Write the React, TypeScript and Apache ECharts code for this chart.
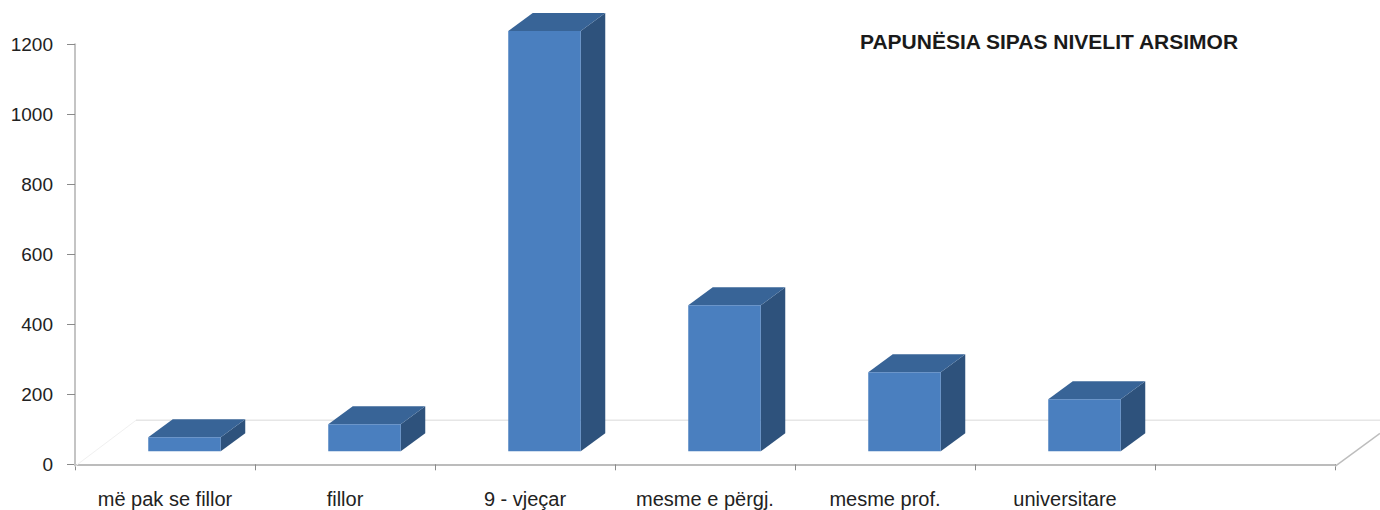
import React, { useEffect, useRef } from "react";
import * as echarts from "echarts";

const categories = ["më pak se fillor", "fillor", "9 - vjeçar", "mesme e përgj.", "mesme prof.", "universitare", ""];
const values = [40, 77, 1201, 417, 226, 149];
const yMax = 1200;
const yStep = 200;
const chartTitle = "PAPUNËSIA SIPAS NIVELIT ARSIMOR";

const FRONT = "#4a7fbf";
const TOP = "#386497";
const SIDE = "#2e527c";
const FONT = '"Liberation Sans", Arial, sans-serif';

// 3D look, in pixels
const BAR_W = 72.5;
const BAR_SHIFT_X = 19.5;
const BAR_LIFT = 13;
const DEPTH_X = 24.5;
const DEPTH_Y = 18;
const AXIS_DROP = 2;

export default function App() {
  const ref = useRef<HTMLDivElement | null>(null);

  useEffect(() => {
    document.body.style.margin = "0";
    const chart = echarts.init(ref.current!, undefined, { renderer: "svg" });

    const renderBar = (_p: any, api: any) => {
      const idx = api.value(0);
      const top = api.coord([idx, api.value(1)]);
      const base = api.coord([idx, 0]);
      const x0 = top[0] - BAR_W / 2 + BAR_SHIFT_X;
      const x1 = x0 + BAR_W;
      const yT = top[1] - BAR_LIFT;
      const yB = base[1] - BAR_LIFT;
      return {
        type: "group",
        children: [
          {
            type: "polygon",
            shape: { points: [[x1, yT], [x1 + DEPTH_X, yT - DEPTH_Y], [x1 + DEPTH_X, yB - DEPTH_Y], [x1, yB]] },
            style: { fill: SIDE },
          },
          {
            type: "polygon",
            shape: { points: [[x0, yT], [x0 + DEPTH_X, yT - DEPTH_Y], [x1 + DEPTH_X, yT - DEPTH_Y], [x1, yT]] },
            style: { fill: TOP },
          },
          { type: "rect", shape: { x: x0, y: yT, width: BAR_W, height: yB - yT }, style: { fill: FRONT } },
        ],
      };
    };

    const renderFloor = (_p: any, api: any) => {
      const o = api.coord([0, 0]);
      const band = api.size([1, 0])[0];
      const left = o[0] - band / 2;
      const right = left + band * categories.length;
      const y = o[1];
      return {
        type: "group",
        children: [
          {
            type: "line",
            shape: { x1: left + 61, y1: y - 44, x2: 1380, y2: y - 44 },
            style: { stroke: "#e6e6e6", lineWidth: 1.5 },
          },
          {
            type: "line",
            shape: { x1: left, y1: y + AXIS_DROP, x2: left + 61, y2: y - 44 },
            style: { stroke: "#f0f0f0", lineWidth: 1 },
          },
          {
            type: "line",
            shape: { x1: right, y1: y + AXIS_DROP, x2: 1380, y2: y - 31 },
            style: { stroke: "#bdbdbd", lineWidth: 1.5 },
          },
          {
            type: "line",
            shape: { x1: left, y1: y - 1, x2: left, y2: y + AXIS_DROP },
            style: { stroke: "#c4c4c4", lineWidth: 2 },
          },
        ],
      };
    };

    chart.setOption({
      animation: false,
      backgroundColor: "#ffffff",
      title: {
        text: chartTitle,
        left: 855,
        top: 25.5,
        textStyle: { fontFamily: FONT, fontSize: 21, fontWeight: "bold", color: "#1a1a1a" },
      },
      grid: { left: 75, right: 45, top: 44.3, bottom: 45.7 },
      xAxis: {
        type: "category",
        data: categories,
        boundaryGap: true,
        offset: AXIS_DROP,
        axisLine: { lineStyle: { color: "#bcbcbc", width: 2 } },
        axisTick: { show: true, alignWithLabel: false, length: 6, lineStyle: { color: "#8a8a8a", width: 1 } },
        axisLabel: { fontFamily: FONT, fontSize: 20, color: "#222222", margin: 23, interval: 0 },
        splitLine: { show: false },
      },
      yAxis: {
        type: "value",
        min: 0,
        max: yMax,
        interval: yStep,
        axisLine: { show: true, lineStyle: { color: "#c4c4c4", width: 2 } },
        axisTick: { show: true, length: 8, lineStyle: { color: "#8a8a8a", width: 1 } },
        axisLabel: {
          fontFamily: FONT,
          fontSize: 19,
          color: "#222222",
          margin: 22,
          formatter: (v: number) => String(v),
        },
        splitLine: { show: false },
      },
      series: [
        { type: "custom", z: 1, renderItem: renderFloor, data: [[0, 0]], clip: false, silent: true },
        {
          type: "custom",
          z: 2,
          renderItem: renderBar,
          data: values.map((v, i) => [i, v]),
          encode: { x: 0, y: 1 },
          clip: false,
        },
      ],
    });

    return () => chart.dispose();
  }, []);

  return <div ref={ref} style={{ width: 1380, height: 510, position: "absolute", left: 0, top: 0 }} />;
}
